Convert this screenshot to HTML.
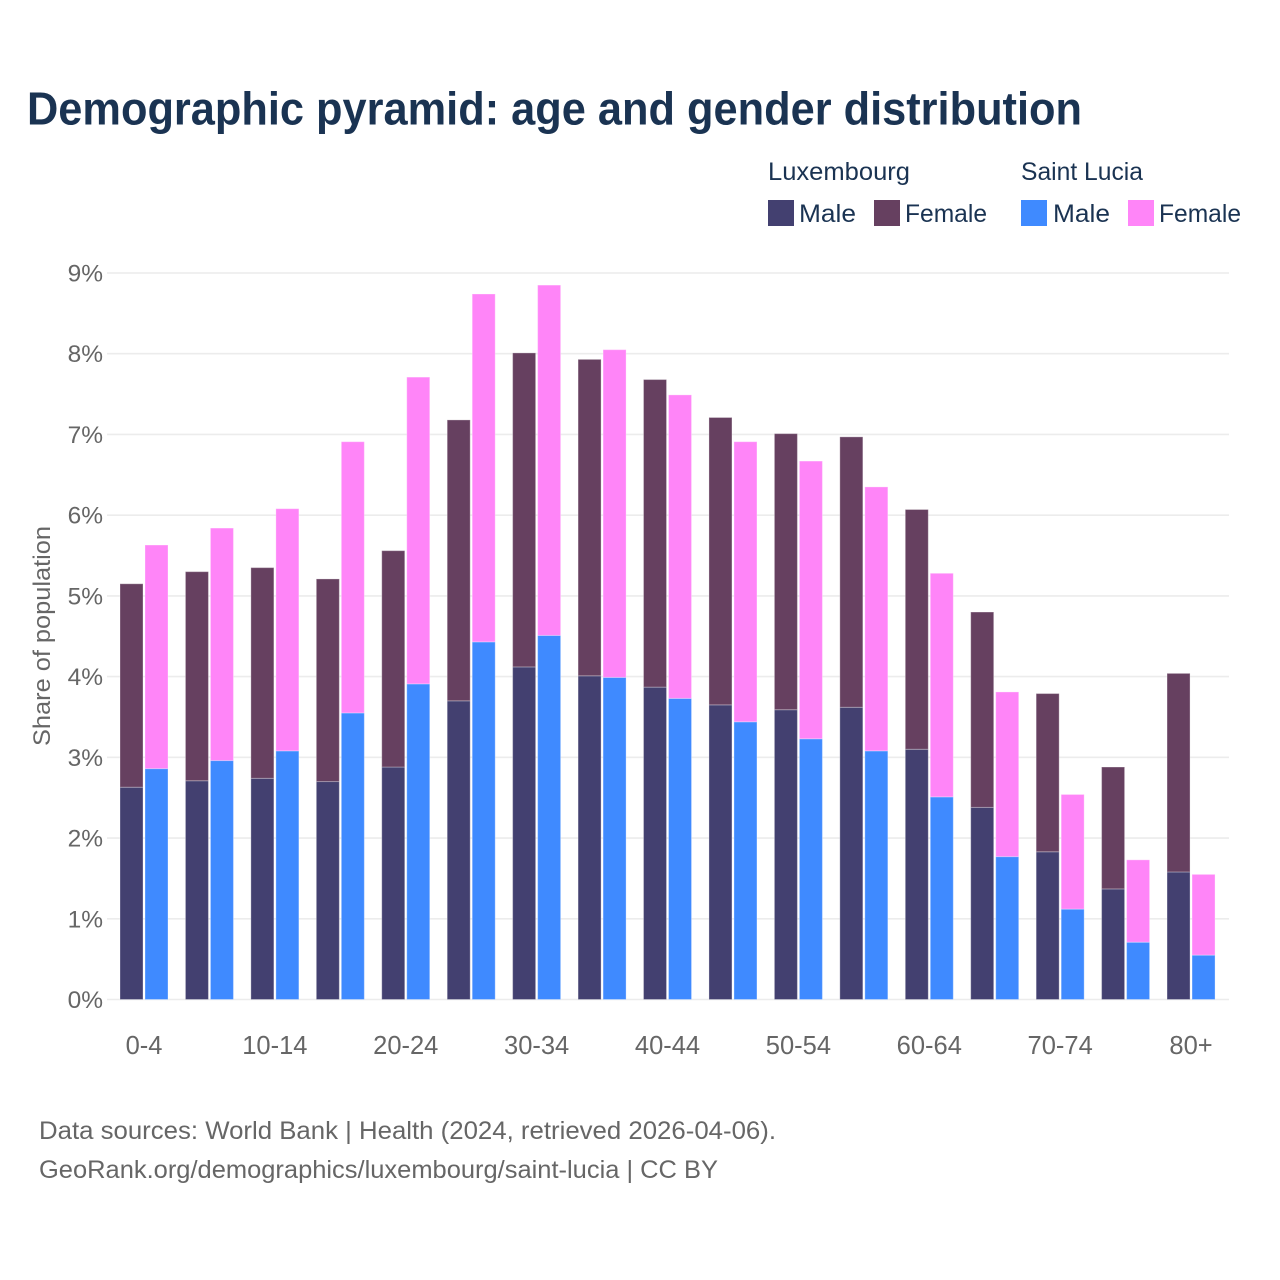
<!DOCTYPE html>
<html lang="en">
<head>
<meta charset="utf-8">
<title>Demographic pyramid: age and gender distribution</title>
<style>
html,body{margin:0;padding:0;background:#fff;}
svg{display:block;}
text{font-family:"Liberation Sans",sans-serif;}
</style>
</head>
<body>
<svg id="chart" xmlns="http://www.w3.org/2000/svg" width="1280" height="1280" viewBox="0 0 1280 1280">
  <rect x="0" y="0" width="1280" height="1280" fill="#ffffff"/>
  <text x="27" y="124.5" font-size="46" font-weight="700" fill="#1a3352" textLength="1055" lengthAdjust="spacingAndGlyphs">Demographic pyramid: age and gender distribution</text>

  <g font-size="25" fill="#1a3352">
    <text x="768" y="180" textLength="142" lengthAdjust="spacingAndGlyphs">Luxembourg</text>
    <text x="1021" y="180" textLength="122" lengthAdjust="spacingAndGlyphs">Saint Lucia</text>
    <rect x="768" y="200" width="26" height="26" fill="#434070"/>
    <text x="799" y="222" textLength="57" lengthAdjust="spacingAndGlyphs">Male</text>
    <rect x="874" y="200" width="26" height="26" fill="#664060"/>
    <text x="905" y="222" textLength="82" lengthAdjust="spacingAndGlyphs">Female</text>
    <rect x="1021" y="200" width="26" height="26" fill="#3f8aff"/>
    <text x="1053" y="222" textLength="57" lengthAdjust="spacingAndGlyphs">Male</text>
    <rect x="1128" y="200" width="26" height="26" fill="#ff85f8"/>
    <text x="1159" y="222" textLength="82" lengthAdjust="spacingAndGlyphs">Female</text>
  </g>

  <g id="grid"></g>
  <g id="bars"></g>
  <g id="xlabels"></g>

  <text transform="translate(50,636) rotate(-90)" text-anchor="middle" font-size="24" fill="#666666" textLength="220" lengthAdjust="spacingAndGlyphs">Share of population</text>

  <text x="39" y="1139" font-size="25" fill="#666666" textLength="737" lengthAdjust="spacingAndGlyphs">Data sources: World Bank | Health (2024, retrieved 2026-04-06).</text>
  <text x="39" y="1178" font-size="25" fill="#666666" textLength="679" lengthAdjust="spacingAndGlyphs">GeoRank.org/demographics/luxembourg/saint-lucia | CC BY</text>
</svg>
<script>
const categories = ["0-4","5-9","10-14","15-19","20-24","25-29","30-34","35-39","40-44","45-49","50-54","55-59","60-64","65-69","70-74","75-79","80+"];
const xTickLabels = ["0-4","","10-14","","20-24","","30-34","","40-44","","50-54","","60-64","","70-74","","80+"];
const yTicks = [0,1,2,3,4,5,6,7,8,9];
const luxembourgMale = [2.63,2.71,2.74,2.70,2.88,3.70,4.12,4.01,3.87,3.65,3.59,3.62,3.10,2.38,1.83,1.37,1.58];
const luxembourgFemale = [2.52,2.59,2.61,2.51,2.68,3.48,3.89,3.92,3.81,3.56,3.42,3.35,2.97,2.42,1.96,1.51,2.46];
const saintLuciaMale = [2.86,2.96,3.08,3.55,3.91,4.43,4.51,3.99,3.73,3.44,3.23,3.08,2.51,1.77,1.12,0.71,0.55];
const saintLuciaFemale = [2.77,2.88,3.00,3.36,3.80,4.31,4.34,4.06,3.76,3.47,3.44,3.27,2.77,2.04,1.42,1.02,1.00];

const NS = 'http://www.w3.org/2000/svg';
const plotLeft = 107, plotRight = 1229, plotBottom = 999.5, plotTop = 273;
const groupStart = 120, groupStep = 65.44, barWidth = 23, barGap = 2;
const yScale = v => plotBottom - (v / 9) * (plotBottom - plotTop);
const xScale = i => groupStart + i * groupStep;

const gridGroup = document.getElementById('grid');
yTicks.forEach(t => {
  const line = document.createElementNS(NS, 'line');
  
  
  line.setAttribute('x1', plotLeft);
  line.setAttribute('x2', plotRight);
  line.setAttribute('y1', yScale(t));
  line.setAttribute('y2', yScale(t));
  line.setAttribute('stroke', '#ececec');
  line.setAttribute('stroke-width', '1.6');
  gridGroup.appendChild(line);
  const label = document.createElementNS(NS, 'text');
  
  
  label.setAttribute('x', 103);
  label.setAttribute('y', yScale(t) + 8.5);
  label.setAttribute('text-anchor', 'end');
  label.setAttribute('font-size', '24.5');
  label.setAttribute('fill', '#666666');
  label.textContent = t + '%';
  gridGroup.appendChild(label);
});

const barsGroup = document.getElementById('bars');
function drawBar(x, base, value, color, name) {
  const rect = document.createElementNS(NS, 'rect');
  
  
  rect.setAttribute('x', x);
  rect.setAttribute('y', yScale(base + value));
  rect.setAttribute('width', barWidth);
  rect.setAttribute('height', yScale(base) - yScale(base + value));
  rect.setAttribute('fill', color);
  rect.setAttribute('stroke', '#ffffff');
  rect.setAttribute('stroke-opacity', '0.3');
  rect.setAttribute('stroke-width', '1');
  barsGroup.appendChild(rect);
}
categories.forEach((c, i) => {
  const x1 = xScale(i);
  const x2 = x1 + barWidth + barGap;
  drawBar(x1, 0, luxembourgMale[i], '#434070', 'bar-luxembourg-male-' + c);
  drawBar(x1, luxembourgMale[i], luxembourgFemale[i], '#664060', 'bar-luxembourg-female-' + c);
  drawBar(x2, 0, saintLuciaMale[i], '#3f8aff', 'bar-saint-lucia-male-' + c);
  drawBar(x2, saintLuciaMale[i], saintLuciaFemale[i], '#ff85f8', 'bar-saint-lucia-female-' + c);
});

const xLabelGroup = document.getElementById('xlabels');
xTickLabels.forEach((t, i) => {
  if (!t) return;
  const label = document.createElementNS(NS, 'text');
  
  
  label.setAttribute('x', xScale(i) + barWidth + barGap / 2);
  label.setAttribute('y', 1054);
  label.setAttribute('text-anchor', 'middle');
  label.setAttribute('font-size', '25.5');
  label.setAttribute('fill', '#666666');
  label.textContent = t;
  xLabelGroup.appendChild(label);
});
</script>
</body>
</html>
